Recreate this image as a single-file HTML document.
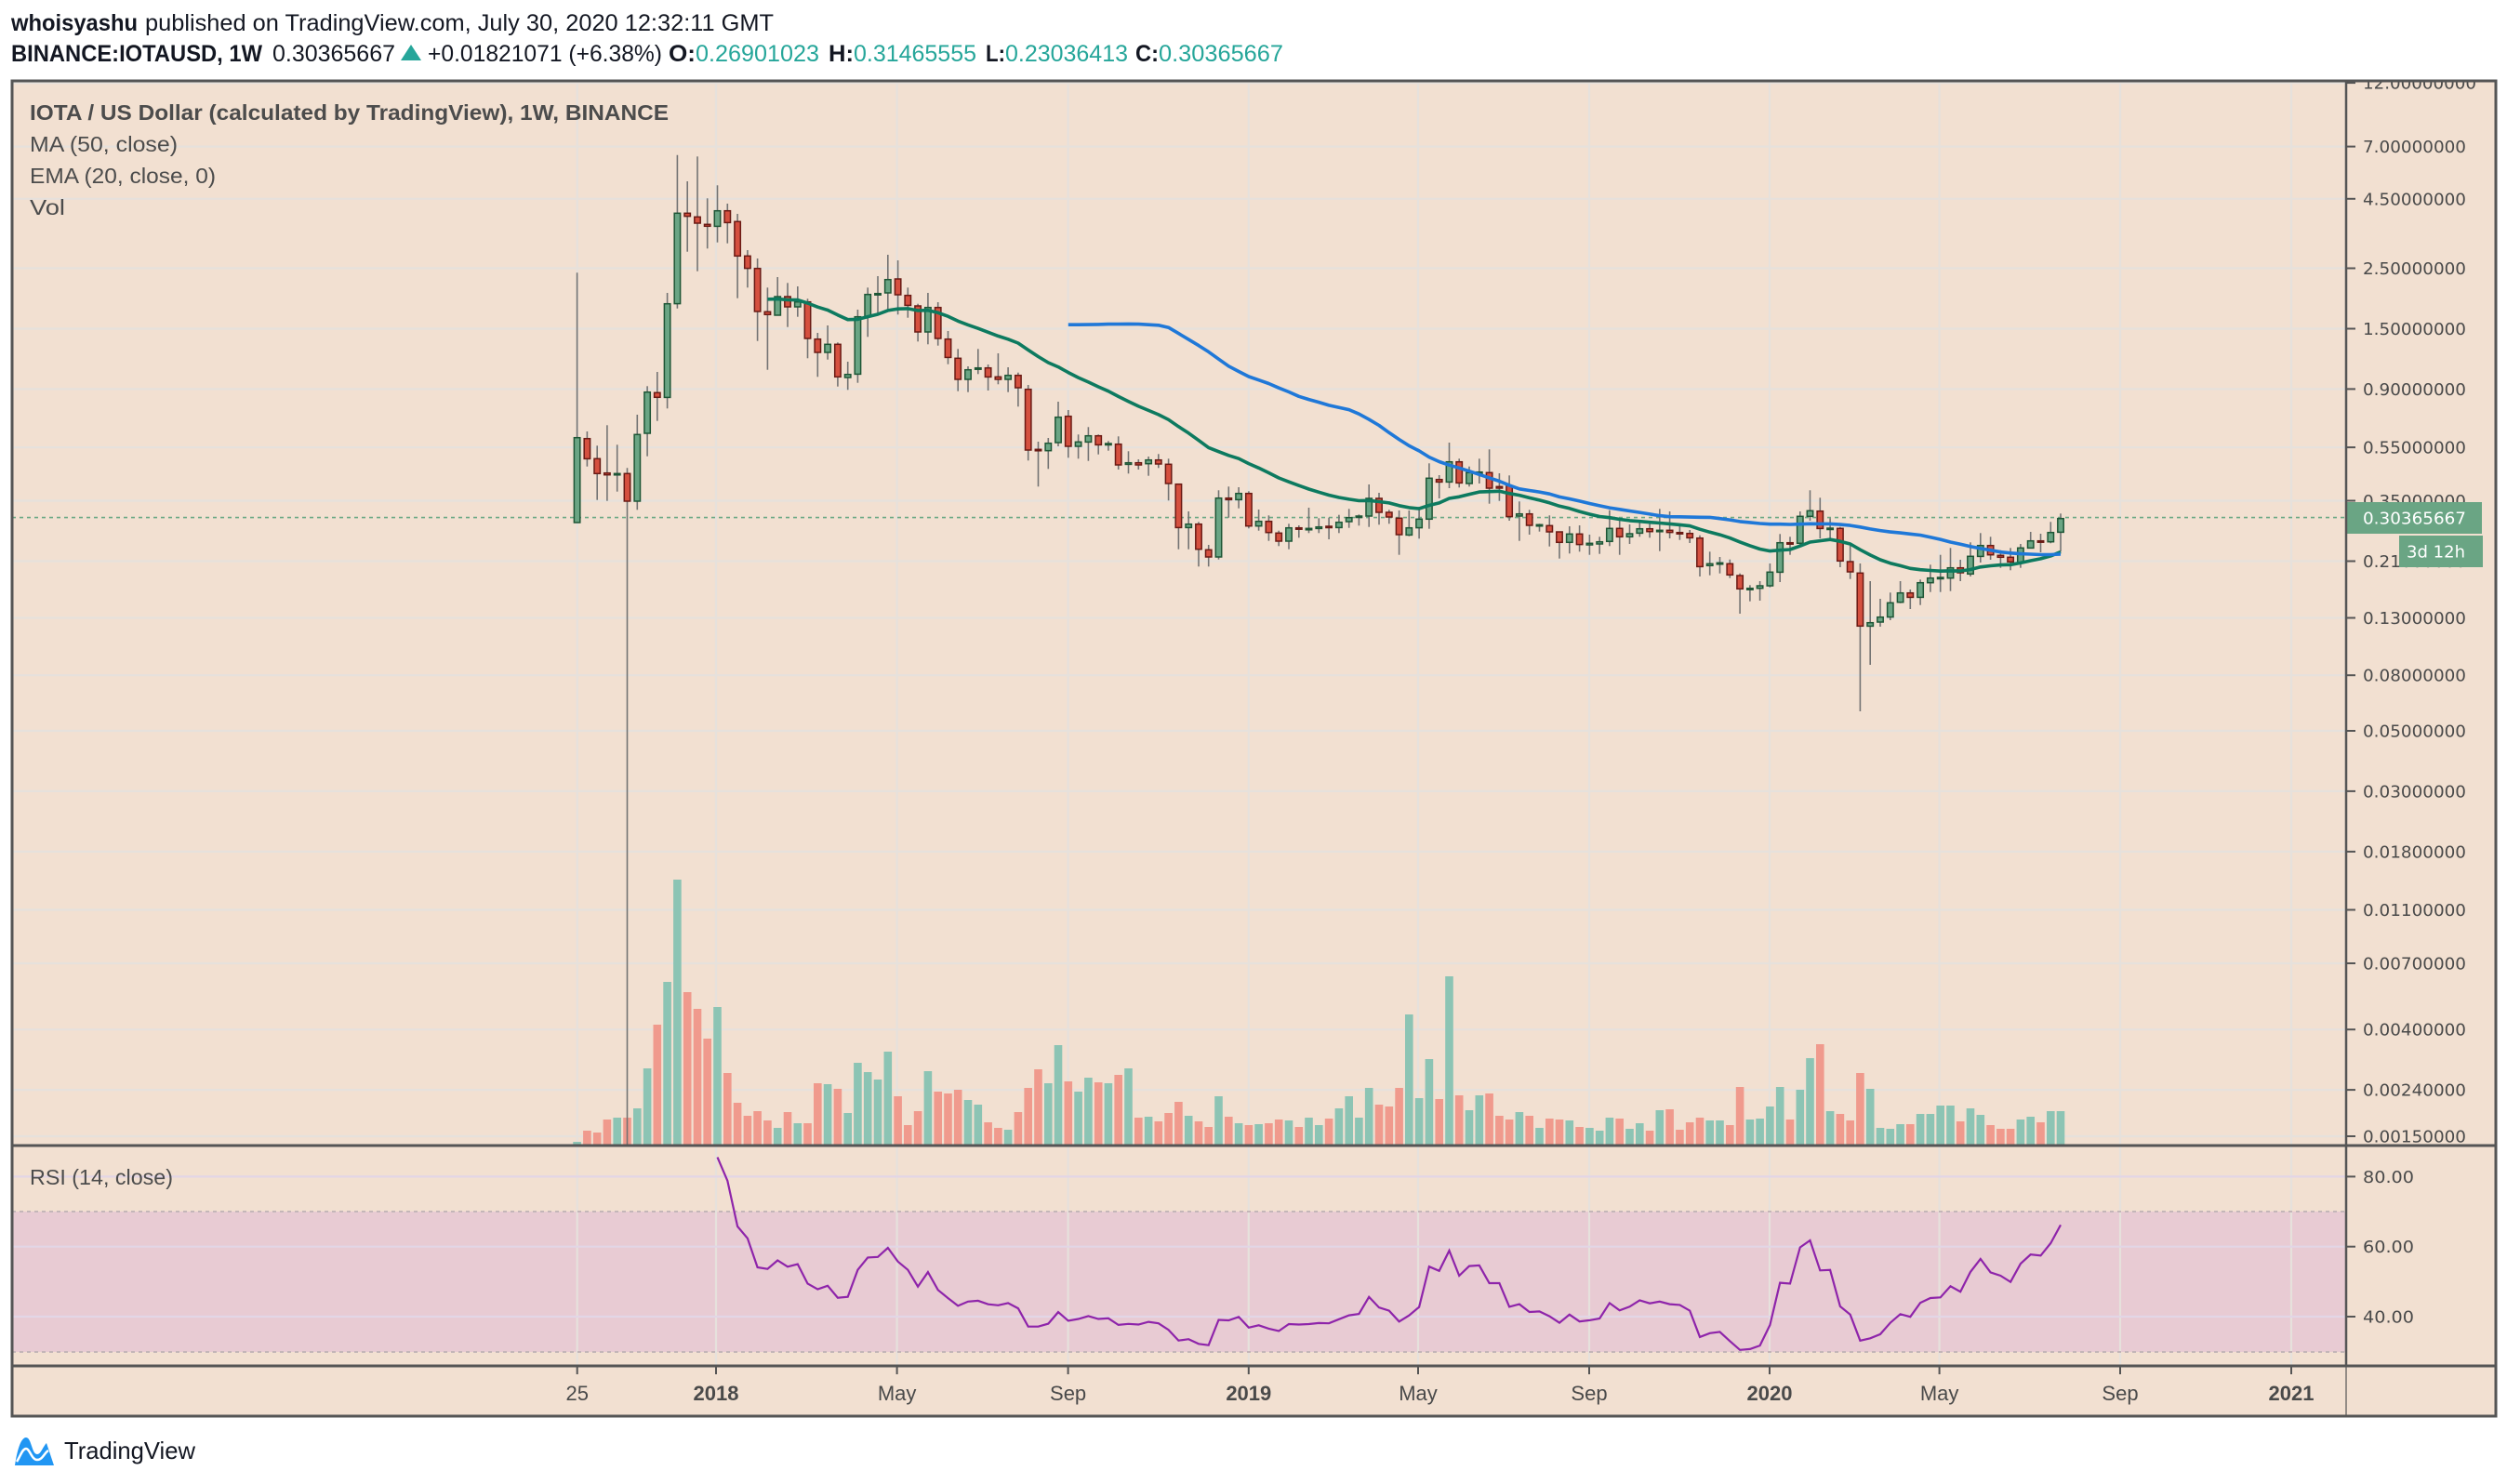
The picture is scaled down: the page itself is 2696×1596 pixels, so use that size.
<!DOCTYPE html>
<html><head><meta charset="utf-8"><style>
html,body{margin:0;padding:0;background:#fff;}
svg{display:block;}
</style></head><body>
<svg id="s" xmlns="http://www.w3.org/2000/svg" width="2696" height="1596" viewBox="0 0 2696 1596" font-family="'Liberation Sans', sans-serif">
<rect x="0" y="0" width="2696" height="1596" fill="#ffffff"/>
<text x="12" y="33" font-size="25" font-weight="bold" fill="#131722" textLength="136" lengthAdjust="spacingAndGlyphs">whoisyashu</text>
<text x="156" y="33" font-size="25" fill="#131722" textLength="676" lengthAdjust="spacingAndGlyphs">published on TradingView.com, July 30, 2020 12:32:11 GMT</text>
<text x="12" y="66" font-size="25" font-weight="bold" fill="#131722" textLength="270" lengthAdjust="spacingAndGlyphs">BINANCE:IOTAUSD, 1W</text>
<text x="293" y="66" font-size="25" fill="#131722" textLength="132" lengthAdjust="spacingAndGlyphs">0.30365667</text>
<polygon points="431,65 453,65 442,48" fill="#26a69a"/>
<text x="460" y="66" font-size="25" fill="#131722" textLength="252" lengthAdjust="spacingAndGlyphs">+0.01821071 (+6.38%)</text>
<text x="719" y="66" font-size="25" font-weight="bold" fill="#131722" textLength="29" lengthAdjust="spacingAndGlyphs">O:</text>
<text x="748" y="66" font-size="25" fill="#26a69a" textLength="133" lengthAdjust="spacingAndGlyphs">0.26901023</text>
<text x="891" y="66" font-size="25" font-weight="bold" fill="#131722" textLength="27" lengthAdjust="spacingAndGlyphs">H:</text>
<text x="918" y="66" font-size="25" fill="#26a69a" textLength="132" lengthAdjust="spacingAndGlyphs">0.31465555</text>
<text x="1060" y="66" font-size="25" font-weight="bold" fill="#131722" textLength="21" lengthAdjust="spacingAndGlyphs">L:</text>
<text x="1081" y="66" font-size="25" fill="#26a69a" textLength="132" lengthAdjust="spacingAndGlyphs">0.23036413</text>
<text x="1221" y="66" font-size="25" font-weight="bold" fill="#131722" textLength="25" lengthAdjust="spacingAndGlyphs">C:</text>
<text x="1246" y="66" font-size="25" fill="#26a69a" textLength="134" lengthAdjust="spacingAndGlyphs">0.30365667</text>
<rect x="13" y="87" width="2671" height="1436" fill="#f2e0d1"/>
<rect x="13" y="1303" width="2509" height="151" fill="#e8cbd3"/>
<g id="g"></g>
<g font-size="23" fill="#4c4c4c">
<text x="32" y="129" font-weight="bold" textLength="687" lengthAdjust="spacingAndGlyphs">IOTA / US Dollar (calculated by TradingView), 1W, BINANCE</text>
<text x="32" y="163" textLength="159" lengthAdjust="spacingAndGlyphs">MA (50, close)</text>
<text x="32" y="197" textLength="200" lengthAdjust="spacingAndGlyphs">EMA (20, close, 0)</text>
<text x="32" y="231" textLength="38" lengthAdjust="spacingAndGlyphs">Vol</text>
<text x="32" y="1274" textLength="154" lengthAdjust="spacingAndGlyphs">RSI (14, close)</text>
</g>
<g fill="none" stroke="#555" stroke-width="3">
<rect x="13" y="87" width="2671" height="1436"/>
<line x1="13" y1="1232" x2="2684" y2="1232"/>
<line x1="13" y1="1469" x2="2684" y2="1469"/>
</g>
<line x1="2523" y1="87" x2="2523" y2="1469" stroke="#555" stroke-width="2.5"/>
<line x1="2523" y1="1469" x2="2523" y2="1523" stroke="#555" stroke-width="1.2"/>
<g transform="translate(14,1542)">
<path d="M2 34 C4 20 8 4 14 4 C20 4 20 22 26 22 C30 22 32 14 36 10 L44 34 Z" fill="#2196f3"/>
<path d="M4 30 C8 24 10 16 14 16 C18 16 20 28 26 28 C32 28 34 20 38 18" stroke="#fff" stroke-width="2.5" fill="none"/>
</g>
<text x="69" y="1569" font-size="26" fill="#131722" textLength="141" lengthAdjust="spacingAndGlyphs">TradingView</text>
</svg>
<script>
(function(){
var d4=[[1236,962,430,1236],[965,1030,942,1055],[1030,1078,988,1163],[1076,1082,922,1166],[1082,1078,985,1136],[1078,1167,1060,3243],[1167,952,888,1195],[948,815,796,1022],[817,832,750,908],[832,530,495,868],[530,238,50,545],[238,248,135,362],[250,270,55,425],[274,280,190,352],[280,230,148,332],[230,268,207,335],[265,376,240,512],[376,416,357,478],[416,555,384,650],[556,565,478,743],[567,507,444,568],[507,540,463,605],[540,524,474,572],[524,642,514,706],[644,687,624,766],[687,661,600,710],[661,766,655,797],[768,758,717,808],[757,572,549,785],[572,500,478,637],[500,497,441,565],[495,452,372,550],[450,501,390,565],[503,535,478,575],[537,621,530,652],[621,542,495,661],[542,642,525,665],[644,703,618,725],[706,774,676,812],[774,743,732,815],[741,737,676,757],[737,766,726,810],[766,774,690,790],[774,761,735,815],[761,801,752,862],[806,1002,792,1036],[1000,1004,975,1120],[1004,980,963,1063],[978,896,846,990],[893,990,873,1027]];
var d5=[[690,676,652,730],[676,656,628,737],[656,685,652,716],[683,681,673,704],[683,750,658,765],[748,743,706,778],[743,750,732,765],[746,734,723,785],[734,747,715,760],[748,810,730,865],[812,952,812,1022],[952,941,900,1022],[941,1022,934,1078],[1024,1047,1008,1078],[1047,857,832,1055],[857,862,820,920],[862,842,822,890],[842,947,835,955],[947,932,894,962],[932,968,913,995],[970,996,962,1012],[996,953,940,1022],[953,957,945,985],[957,955,888,970],[955,950,922,970],[948,952,920,990],[952,935,911,970],[933,920,892,953],[918,915,910,946],[915,858,813,950],[858,903,840,943],[903,918,895,940],[922,975,897,1040],[976,953,897,980],[953,925,885,988],[925,793,745,956],[797,805,783,858],[805,740,678,825],[740,808,730,823],[810,775,755,820],[775,773,730,810],[775,825,700,875],[820,825,777,866],[817,917,784,930],[915,908,868,995],[908,945,895,975],[947,943,940,965],[946,966,913,1013],[966,1000,966,1052],[1000,973,948,1036],[973,1007,945,1030]];
var d6=[[408,403,375,440],[405,398,382,437],[397,355,296,412],[355,382,322,440],[382,372,342,405],[370,356,330,382],[356,365,338,385],[362,361,292,428],[361,368,300,387],[368,370,340,392],[371,385,360,402],[386,478,377,510],[475,469,430,506],[469,466,447,500],[469,505,455,515],[507,550,500,630],[550,548,538,590],[548,540,525,588],[540,496,468,545],[496,401,373,528],[401,403,382,440],[403,316,300,415],[316,298,232,330],[299,355,256,387],[355,354,322,395],[355,460,350,480],[462,495,410,518],[499,670,468,945],[670,659,525,795],[657,641,582,672],[641,595,562,651],[593,563,525,596],[563,577,552,615],[577,530,520,602],[530,515,472,560],[515,513,440,560],[515,482,418,557],[482,498,456,525],[502,445,400,510],[445,410,370,465],[410,440,382,456],[442,448,425,482],[448,463,418,490],[465,418,405,482],[418,395,366,420],[395,397,372,432],[398,368,334,403],[367,323,307,430]];
var C=[];
function add(arr,oy){arr.forEach(function(a){C.push({o:oy+a[0]/3,c:oy+a[1]/3,h:oy+a[2]/3,l:Math.min(1231,oy+a[3]/3)});});}
add(d4,150);add(d5,250);add(d6,450);
var v7=[894,858,864,822,816,816,786,657,516,378,48,411,465,561,459,672,768,810,795,825,849,798,834,834,705,708,723,801,639,669,693,603,747,840,795,666,732,738,726,759,774,831,849,855,798,720,660,705,582,699,732,687,702,705,678,657,816,813,828,801,765,810,828,846,747,813,834,840,837,834,822,825,846,816,840,819];
var v8=[486,447,516,420,474,480,420,183,453,327,456,60,444,492,444,438,510,522,498,510,549,519,522,525,546,549,558,516,519,552,534,558,492,489,555,531,516,525,525,540,417,522,519,480,417,522,426,324,279,495,504,525,372,423,549,552,537,537,504,504,477,477,528,486,507,540,552,552,522,513,531,495,495];
var V=[];v7.forEach(function(z){V.push((903-z)/3);});v8.forEach(function(z){V.push((603-z)/3);});
function X(i){return 620.6+i*10.78;}
function Y(p){return 157.6+Math.log10(7/p)*292.8;}
function P(y){return 7/Math.pow(10,(y-157.6)/292.8);}
var s='';
// clip defs
s+='<defs><clipPath id="cm"><rect x="13" y="88" width="2510" height="1143"/></clipPath><clipPath id="cr"><rect x="13" y="1233" width="2510" height="235"/></clipPath><clipPath id="ca"><rect x="2524" y="88" width="160" height="1143"/></clipPath></defs>';
var ticks=[[12,'12.00000000'],[7,'7.00000000'],[4.5,'4.50000000'],[2.5,'2.50000000'],[1.5,'1.50000000'],[0.9,'0.90000000'],[0.55,'0.55000000'],[0.35,'0.35000000'],[0.21,'0.21000000'],[0.13,'0.13000000'],[0.08,'0.08000000'],[0.05,'0.05000000'],[0.03,'0.03000000'],[0.018,'0.01800000'],[0.011,'0.01100000'],[0.007,'0.00700000'],[0.004,'0.00400000'],[0.0024,'0.00240000'],[0.0015,'0.00150000']];
var tx=[[620.7,'25',0],[770,'2018',1],[964.6,'May',0],[1148.6,'Sep',0],[1342.8,'2019',1],[1525,'May',0],[1709,'Sep',0],[1903,'2020',1],[2085.6,'May',0],[2280,'Sep',0],[2464,'2021',1]];
// grid
s+='<g stroke="#e6e1dc" stroke-width="2.2">';
ticks.forEach(function(t){var y=Y(t[0]);if(t[0]==0.0015)y=1222;s+='<line x1="13" x2="2523" y1="'+y.toFixed(1)+'" y2="'+y.toFixed(1)+'"/>';});
tx.forEach(function(t){s+='<line x1="'+t[0]+'" x2="'+t[0]+'" y1="88" y2="1468"/>';});
s+='</g>';
s+='<g stroke="#e2d6e6" stroke-width="2.2">';
[80,60,40].forEach(function(v){var y=1340.7-(v-60)*3.765;s+='<line x1="13" x2="2523" y1="'+y+'" y2="'+y+'"/>';});
s+='</g>';
s+='<g stroke="#c4b6b8" stroke-width="2" stroke-dasharray="4,4"><line x1="13" x2="2523" y1="1303" y2="1303"/><line x1="13" x2="2523" y1="1454" y2="1454"/></g>';
// volume
s+='<g clip-path="url(#cm)">';
for(var i=0;i<C.length;i++){var g=C[i].c<=C[i].o;var h=V[i]||2;s+='<rect x="'+(X(i)-4.3).toFixed(1)+'" y="'+(1231-h).toFixed(1)+'" width="8.6" height="'+h.toFixed(1)+'" fill="'+(g?'#8cc4b4':'#f09a8d')+'"/>';}
// price line
s+='<line x1="13" x2="2523" y1="556.6" y2="556.6" stroke="#6aa884" stroke-width="1.6" stroke-dasharray="4,4"/>';
// candles
for(var i=0;i<C.length;i++){var c=C[i],x=X(i),g=c.c<=c.o;var top=Math.min(c.o,c.c),bh=Math.max(Math.abs(c.o-c.c),1.5);
s+='<line x1="'+x.toFixed(1)+'" x2="'+x.toFixed(1)+'" y1="'+c.h.toFixed(1)+'" y2="'+c.l.toFixed(1)+'" stroke="#737373" stroke-width="1.6"/>';
s+='<rect x="'+(x-3.2).toFixed(1)+'" y="'+top.toFixed(1)+'" width="6.4" height="'+bh.toFixed(1)+'" fill="'+(g?'#6aa584':'#d5503f')+'" stroke="'+(g?'#1e5636':'#6a1a14')+'" stroke-width="1.5"/>';}
// MA/EMA
var cl=C.map(function(c){return P(c.c);});
var ma='',em='';
for(var i=49;i<cl.length;i++){var sm=0;for(var k=i-49;k<=i;k++)sm+=cl[k];ma+=(i==49?'M':'L')+X(i).toFixed(1)+' '+Y(sm/50).toFixed(1);}
var e=0;for(var k=0;k<20;k++)e+=cl[k];e/=20;var a=2/21;
for(var i=19;i<cl.length;i++){if(i>19)e=a*cl[i]+(1-a)*e;em+=(i==19?'M':'L')+X(i).toFixed(1)+' '+Y(e).toFixed(1);}
s+='<path d="'+em+'" fill="none" stroke="#0d7a5f" stroke-width="3.6" stroke-linejoin="round"/>';
s+='<path d="'+ma+'" fill="none" stroke="#1f78d8" stroke-width="3.6" stroke-linejoin="round"/>';
s+='</g>';
// RSI
var up=0,dn=0,rs='';
for(var i=1;i<cl.length;i++){var ch=cl[i]-cl[i-1];var u=ch>0?ch:0,d=ch<0?-ch:0;
 if(i<=14){up+=u/14;dn+=d/14;}else{up=(up*13+u)/14;dn=(dn*13+d)/14;}
 if(i>=14){var r=dn==0?100:100-100/(1+up/dn);var y=1340.7-(r-60)*3.765;rs+=(i==14?'M':'L')+X(i).toFixed(1)+' '+y.toFixed(1);}}
s+='<path d="'+rs+'" fill="none" stroke="#8e24aa" stroke-width="2.2" clip-path="url(#cr)"/>';
// price axis labels
s+='<g clip-path="url(#ca)" font-family="\'DejaVu Sans\', sans-serif" font-size="18" fill="#4a4a4a">';
ticks.forEach(function(t){var y=Y(t[0]);if(t[0]==0.0015)y=1222;s+='<line x1="2524" x2="2533" y1="'+y.toFixed(1)+'" y2="'+y.toFixed(1)+'" stroke="#555" stroke-width="2"/><text x="2541" y="'+(y+6.5).toFixed(1)+'" textLength="'+(t[1].length==11?122:111)+'" lengthAdjust="spacingAndGlyphs">'+t[1]+'</text>';});
s+='</g>';
s+='<rect x="2524" y="540" width="145" height="34" fill="#6aa584"/><text x="2541" y="563.5" font-family="\'DejaVu Sans\', sans-serif" font-size="18" fill="#fff" textLength="111" lengthAdjust="spacingAndGlyphs">0.30365667</text>';
s+='<rect x="2580" y="576" width="90" height="34" fill="#6aa584"/><text x="2588" y="599.5" font-family="\'DejaVu Sans\', sans-serif" font-size="18" fill="#fff" textLength="63" lengthAdjust="spacingAndGlyphs">3d 12h</text>';
s+='<g font-family="\'DejaVu Sans\', sans-serif" font-size="18" fill="#4a4a4a">';
[[80,'80.00'],[60,'60.00'],[40,'40.00']].forEach(function(t){var y=1340.7-(t[0]-60)*3.765;s+='<line x1="2524" x2="2533" y1="'+y+'" y2="'+y+'" stroke="#555" stroke-width="2"/><text x="2541" y="'+(y+6.5)+'" textLength="55" lengthAdjust="spacingAndGlyphs">'+t[1]+'</text>';});
s+='</g>';
// time axis
s+='<g font-size="22" fill="#4a4a4a" text-anchor="middle">';
tx.forEach(function(t){s+='<line x1="'+t[0]+'" x2="'+t[0]+'" y1="1470" y2="1478" stroke="#555" stroke-width="2"/><text x="'+t[0]+'" y="1506"'+(t[2]?' font-weight="bold"':'')+'>'+t[1]+'</text>';});
s+='</g>';
document.getElementById('g').innerHTML=s;
})();
</script>
</body></html>
